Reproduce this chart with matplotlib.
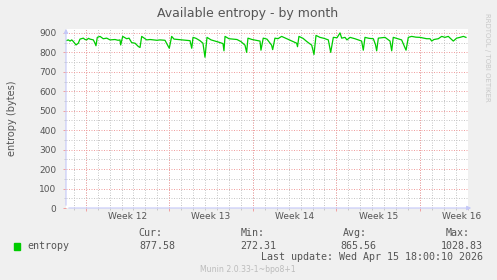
import numpy as np
import matplotlib.pyplot as plt
from matplotlib.patches import Rectangle

# 数据: 时间(天, 从图左边缘算起) 与熵值
days = [0.06, 0.19, 0.34, 0.48, 0.61, 0.84, 1.03, 1.17, 1.45, 1.59, 1.73, 1.88, 2.01,
        2.29, 2.43, 2.51, 2.62, 2.85, 3.12, 3.41, 3.69, 4.10, 4.36, 4.52, 4.58, 4.75,
        5.08, 5.28, 5.50, 5.78, 6.06, 6.20, 6.34, 6.76, 7.04, 7.31, 7.62, 7.87, 8.29,
        8.65, 8.85, 9.05, 9.38, 9.72, 10.05, 10.39, 10.53, 10.64, 10.89, 11.22, 11.47,
        11.64, 11.81, 12.15, 12.48, 12.81, 13.15, 13.23, 13.32, 13.65, 13.99, 14.32,
        14.66, 14.99, 15.13, 15.24, 15.58, 15.91, 16.25, 16.33, 16.52, 16.83, 17.22,
        17.31, 17.50, 17.75, 18.06, 18.42, 18.84, 19.32, 19.39, 19.51, 19.85, 20.18,
        20.58, 20.77, 20.94, 21.27, 21.61, 21.97, 22.17, 22.39, 22.70, 22.95, 23.09,
        23.37, 23.53, 23.79, 24.20, 24.76, 24.90, 25.04, 25.38, 25.74, 25.92, 26.02,
        26.16, 26.72, 27.14, 27.28, 27.41, 27.80, 28.11, 28.48, 28.67, 28.95, 29.31,
        29.65, 30.21, 30.49, 30.63, 30.82, 31.18, 31.47, 31.74, 32.02, 32.44, 32.72,
        33.00, 33.28, 33.50]
entropy = [861, 864, 858, 864, 856, 838, 847, 868, 873, 866, 864, 872, 868,
           864, 847, 834, 877, 882, 870, 873, 864, 866, 862, 864, 838, 882,
           870, 873, 850, 847, 830, 825, 882, 864, 866, 864, 862, 864, 862,
           821, 882, 868, 866, 864, 862, 860, 821, 877, 872, 860, 847,
           775, 877, 864, 858, 852, 845, 808, 882, 870, 868, 866,
           855, 837, 800, 873, 866, 862, 858, 811, 873, 868, 837,
           814, 873, 870, 882, 872, 860, 847, 829, 882, 872, 855,
           837, 789, 887, 877, 872, 864, 800, 877, 875, 900, 873,
           877, 864, 877, 870, 858, 811, 877, 872, 870, 840, 808,
           873, 877, 858, 808, 877, 870, 864, 811, 877, 882, 878,
           877, 870, 870, 858, 866, 870, 882, 877, 882, 858, 873,
           877, 882, 877]

x_max = 33.67
week_start = 1.65          # 第一条周线
weeks = ['Week 12', 'Week 13', 'Week 14', 'Week 15', 'Week 16']
y_max = 920

stat_names = ['Cur:', 'Min:', 'Avg:', 'Max:']
stat_values = ['877.58', '272.31', '865.56', '1028.83']
last_update = 'Last update: Wed Apr 15 18:00:10 2026'

bg = '#f0f0f0'
txt = '#555555'
major_c = '#f0a0a0'
minor_c = '#c8c8c8'
axis_c = '#c4c8f8'

fig = plt.figure(figsize=(4.97, 2.8), dpi=100, facecolor=bg)
W, H = 497, 280
def fx(px): return px / W
def fy(py): return 1 - py / H

ax = fig.add_axes([fx(66), fy(208), 402 / W, 179 / H])
ax.set_facecolor('white')
ax.set_xlim(0, x_max)
ax.set_ylim(0, y_max)
for s in ax.spines.values():
    s.set_visible(False)

# 网格
day_lines = np.arange(week_start - 1, x_max, 1.0)
week_lines = np.arange(week_start, x_max, 7.0)
for d in day_lines:
    ax.axvline(d, color=minor_c, lw=0.72, ls=(0, (1, 1.5)), zorder=1)
for v in np.arange(50, y_max, 100):
    ax.axhline(v, color=minor_c, lw=0.72, ls=(0, (1, 1.5)), zorder=1)
for d in week_lines:
    ax.axvline(d, color=major_c, lw=0.72, ls=(0, (1, 1.5)), zorder=2)
for v in np.arange(100, y_max, 100):
    ax.axhline(v, color=major_c, lw=0.72, ls=(0, (1, 1.5)), zorder=2)

ax.plot(days, entropy, color='#00cc00', lw=0.9, zorder=3)

# 刻度
ax.set_yticks(np.arange(0, 901, 100))
ax.set_yticks(np.arange(50, 901, 100), minor=True)
ax.set_xticks(week_lines)
ax.set_xticks(day_lines, minor=True)
ax.set_xticklabels([])
ax.tick_params(axis='both', which='major', length=2, width=0.7, color=major_c,
               labelsize=6.5, labelcolor=txt, pad=4)
ax.tick_params(axis='both', which='minor', length=1.5, width=0.7, color=minor_c)
ax.tick_params(axis='y', pad=5)

for i, w in enumerate(weeks):
    ax.text(week_start + 3.5 + 7 * i, -0.045, w, transform=ax.get_xaxis_transform(),
            ha='center', va='center', fontsize=6.5, color=txt)

# 坐标轴箭头
ax.annotate('', xy=(1 + 6 / 402, 0), xytext=(0, 0), xycoords='axes fraction',
            arrowprops=dict(arrowstyle='-|>', color=axis_c, lw=0.8, mutation_scale=6),
            annotation_clip=False, zorder=4)
ax.annotate('', xy=(0, 1 + 3 / 179), xytext=(0, 0), xycoords='axes fraction',
            arrowprops=dict(arrowstyle='-|>', color=axis_c, lw=0.8, mutation_scale=6),
            annotation_clip=False, zorder=4)

fig.text(fx(248), fy(13), 'Available entropy - by month', ha='center', va='center',
         fontsize=9, color=txt)
fig.text(fx(12), fy(118), 'entropy (bytes)', rotation=90, ha='center', va='center',
         fontsize=7, color=txt)
fig.text(fx(487), fy(57), 'RRDTOOL / TOBI OETIKER', rotation=270, ha='center',
         va='center', fontsize=5, color='#c8c8c8')

# 图例与统计
mono = 'DejaVu Sans Mono'
fig.patches.append(Rectangle((fx(14), fy(250)), 6 / W, 7 / H, color='#00cc00',
                             transform=fig.transFigure))
fig.text(fx(27), fy(246), 'entropy', ha='left', va='center', family=mono,
         fontsize=7.2, color=txt)
for name, val, hx, vx in zip(stat_names, stat_values, [162, 265, 367, 470],
                             [175, 276, 376, 483]):
    fig.text(fx(hx), fy(233), name, ha='right', va='center', family=mono,
             fontsize=7.2, color=txt)
    fig.text(fx(vx), fy(246), val, ha='right', va='center', family=mono,
             fontsize=7.2, color=txt)
fig.text(fx(483), fy(257.5), last_update, ha='right', va='center', family=mono,
         fontsize=7.2, color=txt)
fig.text(fx(248), fy(270), 'Munin 2.0.33-1~bpo8+1', ha='center', va='center',
         fontsize=5.6, color='#bcbcbc')

fig.savefig('out.png', dpi=100, facecolor=bg)
